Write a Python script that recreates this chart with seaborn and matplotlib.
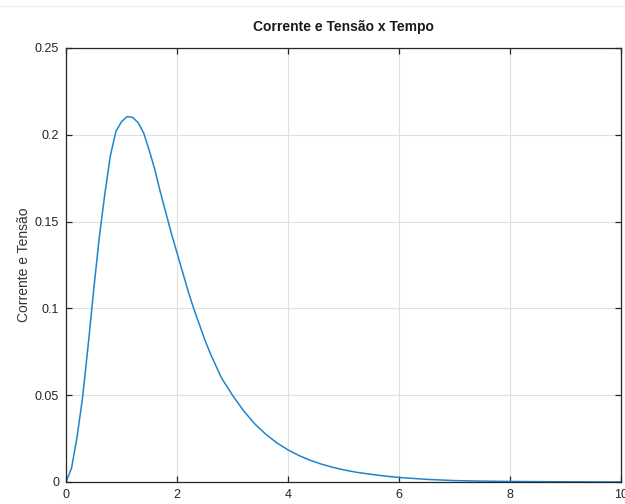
"""
Corrente e Tensao x Tempo - recreated plot
"""

import numpy as np
import pandas as pd
import matplotlib
matplotlib.use("Agg")
import matplotlib.pyplot as plt
import seaborn as sns
from matplotlib.lines import Line2D

# values
tempo = [0.0, 0.1, 0.2, 0.3, 0.4, 0.5, 0.6, 0.7, 0.8, 0.9,
         1.0, 1.1, 1.2, 1.3, 1.4, 1.5, 1.6, 1.7, 1.8, 1.9,
         2.0, 2.1, 2.2, 2.3, 2.4, 2.5, 2.6, 2.7, 2.8, 2.9,
         3.0, 3.2, 3.4, 3.6, 3.8, 4.0, 4.2, 4.4, 4.6, 4.8,
         5.0, 5.25, 5.5, 5.75, 6.0, 6.5, 7.0, 7.5, 8.0, 9.0,
         10.0]
valor = [0.0, 0.008, 0.026, 0.049, 0.079, 0.111, 0.141, 0.166, 0.188, 0.202,
         0.2075, 0.2105, 0.210, 0.207, 0.201, 0.191, 0.180, 0.167, 0.155, 0.143,
         0.132, 0.121, 0.110, 0.100, 0.091, 0.082, 0.074, 0.067, 0.060, 0.055,
         0.050, 0.041, 0.0335, 0.0275, 0.0225, 0.0185, 0.0152, 0.0125, 0.0103, 0.0085,
         0.0070, 0.0055, 0.0044, 0.0034, 0.0026, 0.0015, 0.0008, 0.0005, 0.0003, 0.0001,
         0.0]

x_ticks = [0, 2, 4, 6, 8, 10]
x_labels = ["0", "2", "4", "6", "8", "10"]
y_ticks = [0, 0.05, 0.1, 0.15, 0.2, 0.25]
y_labels = ["0", "0.05", "0.1", "0.15", "0.2", "0.25"]

df = pd.DataFrame({"t": tempo, "v": valor})

sns.set_theme(style="whitegrid")
plt.rcParams["font.family"] = ["Liberation Sans", "DejaVu Sans"]

fig = plt.figure(figsize=(6.25, 5.04), dpi=100)
ax = fig.add_axes([0.1056, 0.0437, 0.888, 0.8611])

sns.lineplot(data=df, x="t", y="v", ax=ax, color="#1f84cc", linewidth=1.1)

ax.set_xlim(0, 10)
ax.set_ylim(0, 0.25)
ax.set_xticks(x_ticks)
ax.set_xticklabels(x_labels)
ax.set_yticks(y_ticks)
ax.set_yticklabels(y_labels)

ax.set_facecolor("white")
ax.grid(True, color="#e0e0e0", linewidth=0.8)
for side in ["left", "right", "top", "bottom"]:
    ax.spines[side].set_visible(True)
    ax.spines[side].set_color("#262626")
    ax.spines[side].set_linewidth(0.9)

ax.tick_params(direction="in", length=4, width=0.9, color="#262626",
               top=True, right=True, bottom=True, left=True,
               labelsize=9, labelcolor="#262626", pad=5)

ax.set_xlabel("")
ax.set_ylabel("Corrente e Tensão", fontsize=10, color="#333333", labelpad=3)
ax.set_title("Corrente e Tensão x Tempo", fontsize=10, fontweight="bold",
             color="#1a1a1a", pad=12)

# faint separator line at the top of the screenshot
fig.add_artist(Line2D([0, 1], [0.988, 0.988], color="#eeeeee", linewidth=1))

fig.savefig("out.png", dpi=100, facecolor="white")
plt.close(fig)
